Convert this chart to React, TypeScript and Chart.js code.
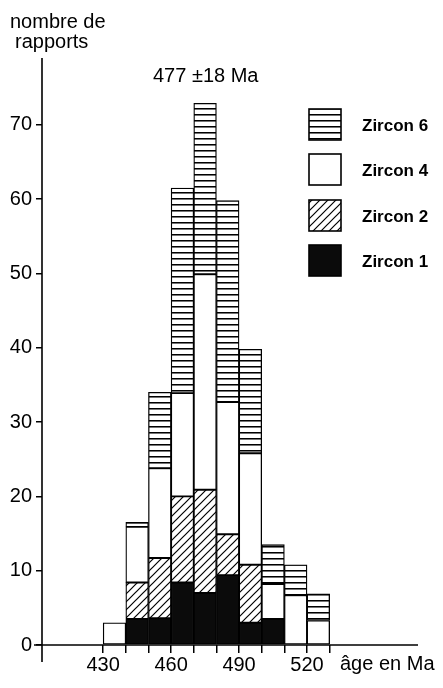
import React, { useEffect, useRef } from "react";
import { Chart, registerables } from "chart.js";

Chart.register(...registerables);

// Bin starts (Ma), each bin 10 Ma wide
const binStarts = [430, 440, 450, 460, 470, 480, 490, 500, 510, 520];
// Counts per zircon (stacked bottom -> top: Zircon 1, 2, 4, 6)
const zircon1 = [0, 3.5, 3.6, 8.4, 7.0, 9.4, 3.0, 3.5, 0, 0];
const zircon2 = [0, 4.9, 8.1, 11.6, 13.9, 5.5, 7.8, 0, 0, 0];
const zircon4 = [3.0, 7.5, 12.1, 13.9, 29.0, 17.8, 15.0, 4.7, 6.7, 3.3];
const zircon6 = [0, 0.6, 10.2, 27.6, 23.0, 27.1, 14.0, 5.3, 4.1, 3.6];

const xTickValues = [430, 440, 450, 460, 470, 480, 490, 500, 510, 520, 530];
const xLabelValues = [430, 460, 490, 520];
const yTickValues = [0, 10, 20, 30, 40, 50, 60, 70];

const FONT = '"Liberation Sans", Arial, Helvetica, sans-serif';

function makeHLines(): CanvasPattern | string {
  const c = document.createElement("canvas");
  c.width = 8;
  c.height = 6;
  const g = c.getContext("2d");
  if (!g) return "#fff";
  g.fillStyle = "#fff";
  g.fillRect(0, 0, 8, 6);
  g.fillStyle = "#000";
  g.fillRect(0, 0, 8, 1);
  g.fillStyle = "rgba(0,0,0,0.55)";
  g.fillRect(0, 1, 8, 1);
  return g.createPattern(c, "repeat") || "#fff";
}

function makeDiag(): CanvasPattern | string {
  const c = document.createElement("canvas");
  c.width = 8;
  c.height = 8;
  const g = c.getContext("2d");
  if (!g) return "#fff";
  g.fillStyle = "#fff";
  g.fillRect(0, 0, 8, 8);
  g.strokeStyle = "#000";
  g.lineWidth = 1.2;
  g.beginPath();
  g.moveTo(0, 8);
  g.lineTo(8, 0);
  g.moveTo(-2, 2);
  g.lineTo(2, -2);
  g.moveTo(6, 10);
  g.lineTo(10, 6);
  g.stroke();
  return g.createPattern(c, "repeat") || "#fff";
}

export default function App() {
  const ref = useRef<HTMLCanvasElement | null>(null);

  useEffect(() => {
    if (!ref.current) return;
    const hl = makeHLines();
    const dg = makeDiag();
    const black = "#0b0b0b";
    const white = "#ffffff";

    const toPts = (arr: number[]) =>
      binStarts.map((b, i) => ({ x: b + 5, y: arr[i] > 0 ? arr[i] : null }));

    const series = [
      { label: "Zircon 1", data: zircon1, bg: black },
      { label: "Zircon 2", data: zircon2, bg: dg },
      { label: "Zircon 4", data: zircon4, bg: white },
      { label: "Zircon 6", data: zircon6, bg: hl },
    ];

    const legendOrder = ["Zircon 6", "Zircon 4", "Zircon 2", "Zircon 1"];
    const legendY = [109, 154, 200, 245];

    const annot = {
      id: "annot",
      afterDraw(chart: any) {
        const ctx = chart.ctx as CanvasRenderingContext2D;
        const ca = chart.chartArea;
        ctx.save();
        // axes
        ctx.strokeStyle = "#000";
        ctx.lineWidth = 1.6;
        ctx.beginPath();
        ctx.moveTo(ca.left, ca.top);
        ctx.lineTo(ca.left, 662);
        ctx.moveTo(34, ca.bottom);
        ctx.lineTo(ca.right, ca.bottom);
        ctx.stroke();

        ctx.fillStyle = "#000";
        ctx.font = `20px ${FONT}`;
        ctx.textBaseline = "alphabetic";
        ctx.textAlign = "left";
        ctx.fillText("nombre de", 10, 28);
        ctx.fillText("rapports", 15, 48);
        ctx.fillText("477 \u00B118 Ma", 153, 82);
        ctx.fillText("âge en Ma", 340, 670);

        // legend
        ctx.font = `bold 17px ${FONT}`;
        ctx.textBaseline = "middle";
        legendOrder.forEach((name, i) => {
          const s = series.find((d) => d.label === name)!;
          const y = legendY[i];
          ctx.fillStyle = s.bg as any;
          ctx.fillRect(309, y, 32, 31);
          ctx.strokeStyle = "#000";
          ctx.lineWidth = 1.6;
          ctx.strokeRect(309, y, 32, 31);
          ctx.fillStyle = "#000";
          ctx.fillText(name, 362, y + 17);
        });
        ctx.restore();
      },
    };

    const chart = new Chart(ref.current, {
      type: "bar",
      data: {
        datasets: series.map((s) => ({
          label: s.label,
          data: toPts(s.data) as any,
          backgroundColor: s.bg as any,
          borderColor: "#000",
          borderWidth: 1.3,
          borderSkipped: false,
          barPercentage: 1,
          categoryPercentage: 1,
        })),
      },
      options: {
        responsive: false,
        animation: false,
        devicePixelRatio: 1,
        layout: { padding: { top: 58, right: 25, left: 0, bottom: 0 } },
        plugins: {
          legend: { display: false },
          tooltip: { enabled: false },
          title: { display: false },
        },
        scales: {
          x: {
            type: "linear",
            stacked: true,
            min: 403,
            max: 569,
            offset: false,
            afterBuildTicks: (scale: any) => {
              scale.ticks = xTickValues.map((v) => ({ value: v }));
            },
            afterFit: (scale: any) => {
              scale.height = 43;
            },
            border: { display: false },
            grid: {
              offset: false,
              drawOnChartArea: false,
              drawTicks: true,
              tickLength: 8,
              color: "#000",
              lineWidth: 1.5,
            },
            ticks: {
              autoSkip: false,
              maxRotation: 0,
              padding: 0,
              color: "#000",
              font: { size: 20, family: FONT },
              callback: (v: any) => (xLabelValues.includes(Number(v)) ? String(v) : ""),
            },
          },
          y: {
            type: "linear",
            stacked: true,
            min: 0,
            max: 79,
            afterBuildTicks: (scale: any) => {
              scale.ticks = yTickValues.map((v) => ({ value: v }));
            },
            afterFit: (scale: any) => {
              scale.width = 42;
            },
            border: { display: false },
            grid: {
              drawOnChartArea: false,
              drawTicks: true,
              tickLength: 6,
              color: "#000",
              lineWidth: 1.5,
            },
            ticks: {
              padding: 4,
              color: "#000",
              font: { size: 20, family: FONT },
            },
          },
        },
      },
      plugins: [annot],
    });

    return () => chart.destroy();
  }, []);

  return (
    <div style={{ position: "fixed", left: 0, top: 0, width: 443, height: 688, background: "#fff" }}>
      <canvas ref={ref} width={443} height={688} />
    </div>
  );
}
